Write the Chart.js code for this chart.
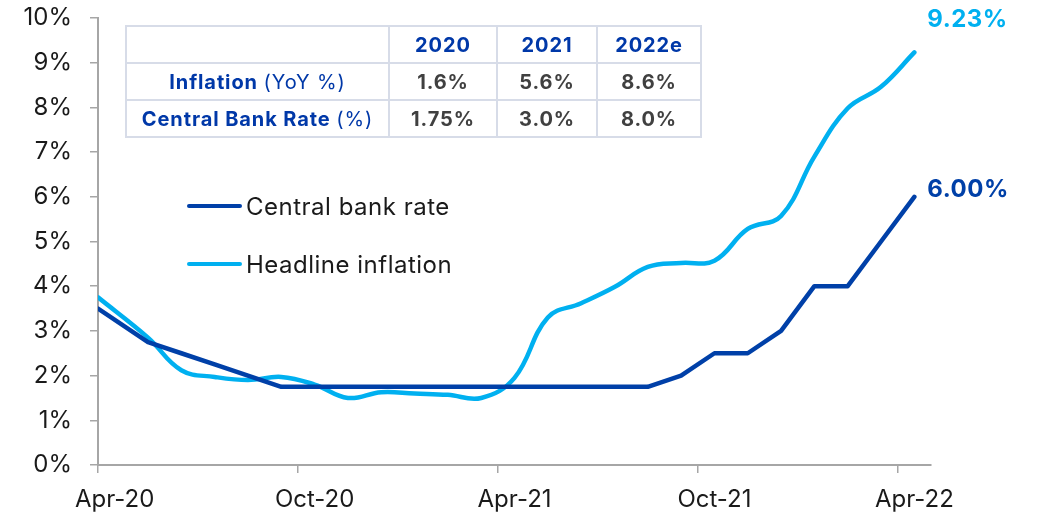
<!DOCTYPE html>
<html>
<head>
<meta charset="utf-8">
<script src="https://cdn.jsdelivr.net/npm/chart.js@4"></script>
<style>
  html, body { margin: 0; padding: 0; background: #fff; }
  #wrap { position: relative; width: 1038px; height: 517px; font-family: Inter, sans-serif; }
  canvas { position: absolute; left: 0; top: 0; }
  #rates {
    position: absolute; left: 125px; top: 25px;
    border-collapse: collapse; table-layout: fixed;
    font-family: Inter, sans-serif; font-size: 20px; letter-spacing: 0.9px;
  }
  #rates td { border: 2.5px solid #d7dce8; text-align: center; padding: 0; height: 35px; color: #404040; font-weight: 700; }
  #rates .head { color: #0038a8; }
  #rates .lbl { color: #0038a8; }
  #rates .lbl span { font-weight: 400; }
  #legend { position: absolute; left: 187px; top: 190px; font-size: 24px; color: #1a1a1a; letter-spacing: 0.5px; }
  #legend div { display: flex; align-items: center; height: 32px; margin-bottom: 26px; }
  #legend i { display: inline-block; width: 55px; height: 4px; border-radius: 2px; margin-right: 4px; }
</style>
</head>
<body>
<div id="wrap">
  <canvas id="chart" width="1038" height="517"></canvas>
  <table id="rates"></table>
  <div id="legend"></div>
</div>
<script>
// observation positions, in months from 1 Apr 2020 (mid-month readings)
const monthPos = [0, 1.5, 2.5, 3.5, 4.5, 5.5, 6.5, 7.5, 8.5, 9.5, 10.5, 11.5, 12.5,
  13.5, 14.5, 15.5, 16.5, 17.5, 18.5, 19.5, 20.5, 21.5, 22.5, 23.5, 24.5];
const centralBankRate = [3.5, 2.75, 2.5, 2.25, 2.0, 1.75, 1.75, 1.75, 1.75, 1.75, 1.75, 1.75, 1.75,
  1.75, 1.75, 1.75, 1.75, 2.0, 2.5, 2.5, 3.0, 4.0, 4.0, 5.0, 6.0];
const headlineInflation = [3.75, 2.85, 2.12, 1.97, 1.9, 1.97, 1.8, 1.5, 1.63, 1.6, 1.57, 1.5, 1.95,
  3.3, 3.62, 3.98, 4.43, 4.52, 4.57, 5.28, 5.57, 6.9, 7.98, 8.46, 9.23];
const xTickPos = [0, 6, 12, 18, 24];
const xTickLabels = ['Apr-20', 'Oct-20', 'Apr-21', 'Oct-21', 'Apr-22'];

const tableYears = ['2020', '2021', '2022e'];
const tableInflation = ['1.6%', '5.6%', '8.6%'];
const tableRate = ['1.75%', '3.0%', '8.0%'];

const DARK = '#0040a8';
const LIGHT = '#00b0f0';
const AXIS = '#a6a6a6';

// table
const tbl = document.getElementById('rates');
const colW = [263, 108, 100, 104];
let html = '<colgroup>' + colW.map(w => `<col style="width:${w}px">`).join('') + '</colgroup>';
html += '<tr><td></td>' + tableYears.map(y => `<td class="head">${y}</td>`).join('') + '</tr>';
html += '<tr><td class="lbl">Inflation <span>(YoY %)</span></td>' + tableInflation.map(v => `<td>${v}</td>`).join('') + '</tr>';
html += '<tr><td class="lbl">Central Bank Rate <span>(%)</span></td>' + tableRate.map(v => `<td>${v}</td>`).join('') + '</tr>';
tbl.innerHTML = html;

const series = [
  { label: 'Central bank rate', data: centralBankRate, color: DARK, tension: 0, labelDy: -7 },
  { label: 'Headline inflation', data: headlineInflation, color: LIGHT, tension: 0.4, labelDy: -33 }
];

document.getElementById('legend').innerHTML = series
  .map(s => `<div><i style="background:${s.color}"></i>${s.label}</div>`).join('');

// value labels at the last point of each line
const endLabels = {
  id: 'endLabels',
  afterDatasetsDraw(chart) {
    const ctx = chart.ctx;
    ctx.save();
    ctx.font = '700 24px Inter, sans-serif';
    ctx.letterSpacing = '0.5px';
    ctx.textBaseline = 'middle';
    chart.data.datasets.forEach((ds, i) => {
      const meta = chart.getDatasetMeta(i);
      const pt = meta.data[meta.data.length - 1];
      const v = ds.data[ds.data.length - 1].y;
      ctx.fillStyle = ds.borderColor;
      ctx.fillText(v.toFixed(2) + '%', pt.x + 13, pt.y + series[i].labelDy);
    });
    ctx.restore();
  }
};

new Chart(document.getElementById('chart'), {
  type: 'line',
  data: {
    datasets: series.map(s => ({
      label: s.label,
      data: s.data.map((v, i) => ({ x: monthPos[i], y: v })),
      borderColor: s.color,
      backgroundColor: s.color,
      borderWidth: 4.5,
      pointRadius: 0,
      tension: s.tension,
      borderCapStyle: 'round',
      borderJoinStyle: 'round'
    }))
  },
  options: {
    responsive: false,
    animation: false,
    layout: { padding: { top: 18, right: 107, left: 0, bottom: 0 } },
    plugins: { legend: { display: false }, tooltip: { enabled: false } },
    scales: {
      x: {
        type: 'linear',
        min: 0,
        max: 25,
        afterBuildTicks: (scale) => { scale.ticks = xTickPos.map(v => ({ value: v })); },
        afterFit: (scale) => { scale.height = 52; scale.paddingLeft = 0; scale.paddingRight = 0; },
        grid: { display: true, drawOnChartArea: false, drawTicks: true, tickLength: 8, color: AXIS, lineWidth: 1.5 },
        border: { display: true, color: AXIS, width: 2 },
        ticks: {
          autoSkip: false,
          maxRotation: 0,
          padding: 12,
          labelOffset: 16.7,
          color: '#1a1a1a',
          font: { family: 'Inter, sans-serif', size: 24 },
          callback: (v) => xTickLabels[xTickPos.indexOf(v)]
        }
      },
      y: {
        min: 0,
        max: 10,
        afterFit: (scale) => { scale.width = 98; scale.paddingTop = 0; scale.paddingBottom = 0; },
        grid: { display: true, drawOnChartArea: false, drawTicks: true, tickLength: 8, color: AXIS, lineWidth: 1.5 },
        border: { display: true, color: AXIS, width: 2 },
        ticks: {
          stepSize: 1,
          padding: 18,
          color: '#1a1a1a',
          font: { family: 'Inter, sans-serif', size: 24 },
          callback: (v) => v + '%'
        }
      }
    }
  },
  plugins: [endLabels]
});
</script>
</body>
</html>
